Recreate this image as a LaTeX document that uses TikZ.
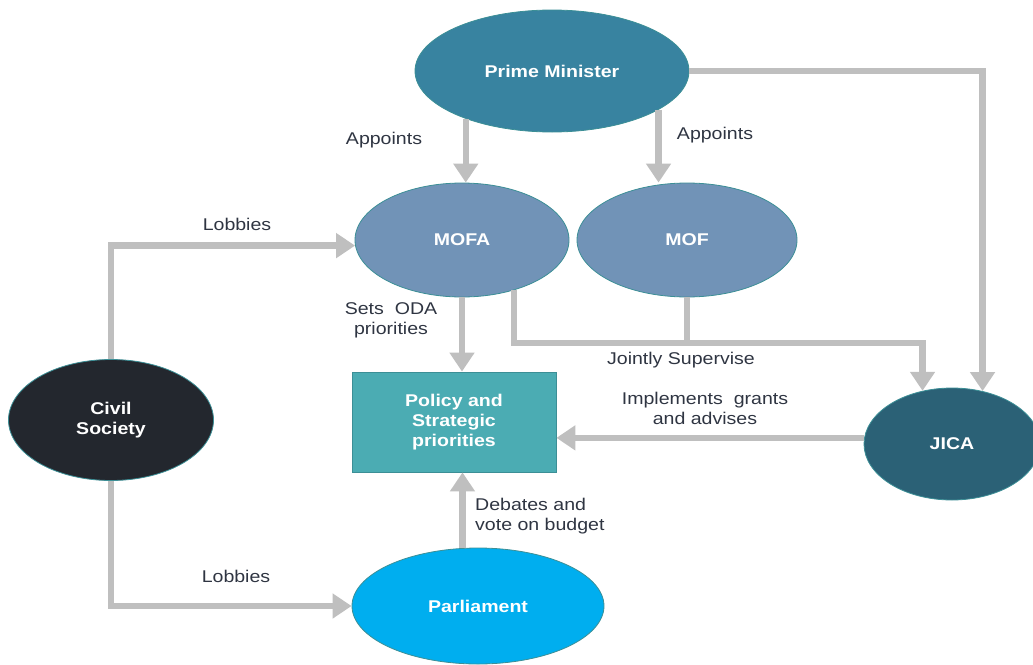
\documentclass[tikz,border=0pt]{standalone}
\usepackage{fontspec}
\setmainfont{Liberation Sans}[FakeStretch=1.15]
\usetikzlibrary{shapes.geometric,arrows.meta,calc}
\definecolor{pmc}{HTML}{3883A0}
\definecolor{mofc}{HTML}{7193B7}
\definecolor{polc}{HTML}{4BACB3}
\definecolor{civc}{HTML}{23272E}
\definecolor{jicac}{HTML}{2B6176}
\definecolor{parc}{HTML}{00AEEF}
\definecolor{edgec}{HTML}{3C8F96}
\definecolor{arrc}{HTML}{BFBFBF}
\definecolor{txtc}{HTML}{2F3542}
\tikzset{
  blob/.style={ellipse, draw=edgec, line width=0.8pt, inner sep=0pt, text=white,
    font=\fontsize{17}{20}\selectfont\bfseries, align=center},
  polbox/.style={rectangle, draw=edgec, line width=0.8pt, fill=polc, text=white,
    font=\fontsize{17}{20}\selectfont\bfseries, align=center, inner sep=0pt,
    minimum width=204pt, minimum height=100pt},
  lbl/.style={text=txtc, font=\fontsize{17}{20}\selectfont, align=center, inner sep=0pt},
  arr/.style={draw=arrc, line width=6.5pt, -{Triangle[width=24pt,length=19pt]}},
  ln/.style={draw=arrc, line width=6.5pt}
}
\begin{document}
\begin{tikzpicture}[x=1pt,y=-1pt]
\useasboundingbox (0,0) rectangle (1033,664);
% nodes
\node[blob, fill=pmc, minimum width=274pt, minimum height=122pt] (pm) at (552,71) {Prime Minister};
\node[blob, fill=mofc, minimum width=214pt, minimum height=114pt] (mofa) at (462,240) {MOFA};
\node[blob, fill=mofc, minimum width=220pt, minimum height=114pt] (mof) at (687,240) {MOF};
\node[polbox] (pol) at (454,422) {Policy and\\Strategic\\priorities};
\node[blob, fill=civc, minimum width=205pt, minimum height=121pt] (civ) at (111,420) {Civil\\Society};
\node[blob, fill=jicac, minimum width=176pt, minimum height=112pt] (jica) at (952,444) {JICA};
\node[blob, fill=parc, minimum width=252pt, minimum height=116pt] (parl) at (478,606) {Parliament};
% connectors
\draw[arr] (pm.209.7) -- (pm.209.7 |- mofa.north);
\draw[arr] (pm.340.85) -- (pm.340.85 |- mof.north);
\draw[arr] (pm.east) -| (jica.60.3);
\draw[arr] (civ.north) |- (mofa.183.8);
\draw[arr] (civ.south) |- (parl.west);
\draw[arr] (mofa.south) -- (mofa.south |- pol.north);
\draw[arr] (parl.105.5) -- (parl.105.5 |- pol.south);
\coordinate (jsy) at (0,343);
\draw[arr] (mofa.316.2) |- (jica.119.7 |- jsy) -- (jica.119.7);
\draw[ln] (mof.south) -- (mof.south |- jsy);
\draw[arr] (jica.176.1) -- (jica.176.1 -| pol.east);
% labels
\node[lbl] (l1) at (384,140) {Appoints};
\node[lbl] (l2) at (715,135) {Appoints};
\node[lbl] (l3) at (237,224) {Lobbies};
\node[lbl] (l4) at (236,576) {Lobbies};
\node[lbl] (l5) at (391,320) {Sets~ ODA\\priorities};
\node[lbl] (l6) at (681,360) {Jointly Supervise};
\node[lbl] (l7) at (705,408) {Implements~ grants\\and advises};
\node[lbl, align=left, anchor=west] (l8) at (475,516) {Debates and\\vote on budget};
\end{tikzpicture}
\end{document}
